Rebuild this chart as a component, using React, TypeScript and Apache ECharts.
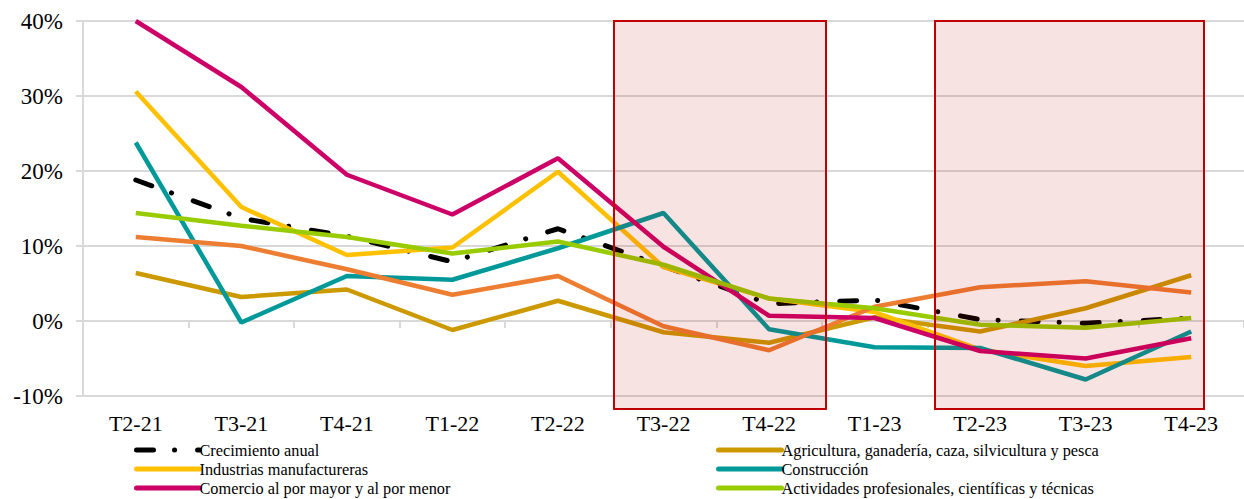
import React, { useEffect, useRef } from "react";
import * as echarts from "echarts";

const categories = ["T2-21", "T3-21", "T4-21", "T1-22", "T2-22", "T3-22", "T4-22", "T1-23", "T2-23", "T3-23", "T4-23"];
const crecimiento = [18.8, 13.7, 11.3, 7.9, 12.3, 7.3, 2.3, 2.8, 0.2, -0.3, 0.4];
const agricultura = [6.4, 3.2, 4.2, -1.2, 2.7, -1.5, -2.9, 0.5, -1.4, 1.7, 6.1];
const industrias = [30.6, 15.2, 8.8, 9.8, 19.9, 7.2, 3.0, 1.2, -3.8, -6.0, -4.8];
const construccion = [23.8, -0.2, 6.0, 5.5, 9.7, 14.4, -1.1, -3.5, -3.6, -7.8, -1.4];
const comercio = [40.0, 31.2, 19.5, 14.2, 21.7, 9.9, 0.7, 0.4, -4.0, -5.0, -2.3];
const actividades = [14.4, 12.7, 11.2, 9.0, 10.6, 7.5, 3.0, 1.7, -0.5, -0.9, 0.4];
const otros = [11.2, 10.0, 6.9, 3.5, 6.0, -0.7, -3.9, 1.9, 4.5, 5.3, 3.8];
const yTicks = { min: -10, max: 40, interval: 10 };

const FONT = "'Liberation Serif', 'Times New Roman', serif";

export default function App() {
  const ref = useRef<HTMLDivElement>(null);
  useEffect(() => {
    if (!ref.current) return;
    const chart = echarts.init(ref.current, null, { renderer: "svg" });
    const line = (name: string, data: number[], color: string, extra: any = {}) => ({
      name,
      type: "line",
      data,
      symbol: "none",
      lineStyle: { color, width: 4.5, ...(extra.lineStyle || {}) },
      itemStyle: { color },
      z: extra.z ?? 2,
    });
    const legendBase = {
      top: 442,
      orient: "vertical",
      padding: 0,
      itemWidth: 63,
      itemHeight: 6,
      itemGap: 3,
      height: 60,
      lineStyle: { width: 5, cap: "round" },
      itemStyle: { opacity: 0 },
      textStyle: { fontFamily: FONT, fontSize: 16.3, color: "#000", padding: [0, 0, 0, -5] },
    };
    chart.setOption({
      animation: false,
      textStyle: { fontFamily: FONT },
      grid: { left: 83, top: 21, bottom: 103, right: -5 },
      xAxis: {
        type: "category",
        data: categories,
        boundaryGap: true,
        axisLine: { lineStyle: { color: "#d9d9d9", width: 2 } },
        axisTick: { show: true, length: 7, lineStyle: { color: "#d9d9d9", width: 2 } },
        axisLabel: { color: "#000", fontSize: 22, fontFamily: FONT, margin: 16 },
      },
      yAxis: {
        type: "value",
        min: yTicks.min,
        max: yTicks.max,
        interval: yTicks.interval,
        axisLine: { show: true, lineStyle: { color: "#d9d9d9", width: 2 } },
        axisTick: { show: true, length: 7, lineStyle: { color: "#d9d9d9", width: 2 } },
        splitLine: { lineStyle: { color: "#d9d9d9", width: 2 } },
        axisLabel: { color: "#000", fontSize: 23, fontFamily: FONT, formatter: "{value}%", margin: 20 },
      },
      legend: [
        {
          ...legendBase,
          left: 134,
          data: ["Crecimiento anual", "Industrias manufactureras", "Comercio al por mayor y al por menor"],
        },
        {
          ...legendBase,
          left: 716,
          data: [
            "Agricultura, ganadería, caza, silvicultura y pesca",
            "Construcción",
            "Actividades profesionales, científicas y técnicas",
          ],
        },
      ],
      series: [
        line("Agricultura, ganadería, caza, silvicultura y pesca", agricultura, "#CC9900"),
        line("Industrias manufactureras", industrias, "#FFC000"),
        line("Construcción", construccion, "#009999"),
        line("Otros servicios", otros, "#ED7D31"),
        line("Crecimiento anual", crecimiento, "#000000", {
          lineStyle: { type: [17, 21, 0.1, 23], cap: "round", width: 5 },
          z: 1,
        }),
        line("Comercio al por mayor y al por menor", comercio, "#CC0066"),
        line("Actividades profesionales, científicas y técnicas", actividades, "#99CC00"),
      ],
      graphic: [
        {
          type: "rect",
          z: 100,
          shape: { x: 614, y: 21, width: 212, height: 388 },
          style: { fill: "rgba(192,0,0,0.11)", stroke: "#C00000", lineWidth: 2 },
        },
        {
          type: "rect",
          z: 100,
          shape: { x: 935, y: 21, width: 269, height: 388 },
          style: { fill: "rgba(192,0,0,0.11)", stroke: "#C00000", lineWidth: 2 },
        },
      ],
    });
    return () => chart.dispose();
  }, []);
  return (
    <div
      ref={ref}
      style={{ position: "fixed", left: 0, top: 0, width: 1244, height: 499, background: "#fff" }}
    />
  );
}
